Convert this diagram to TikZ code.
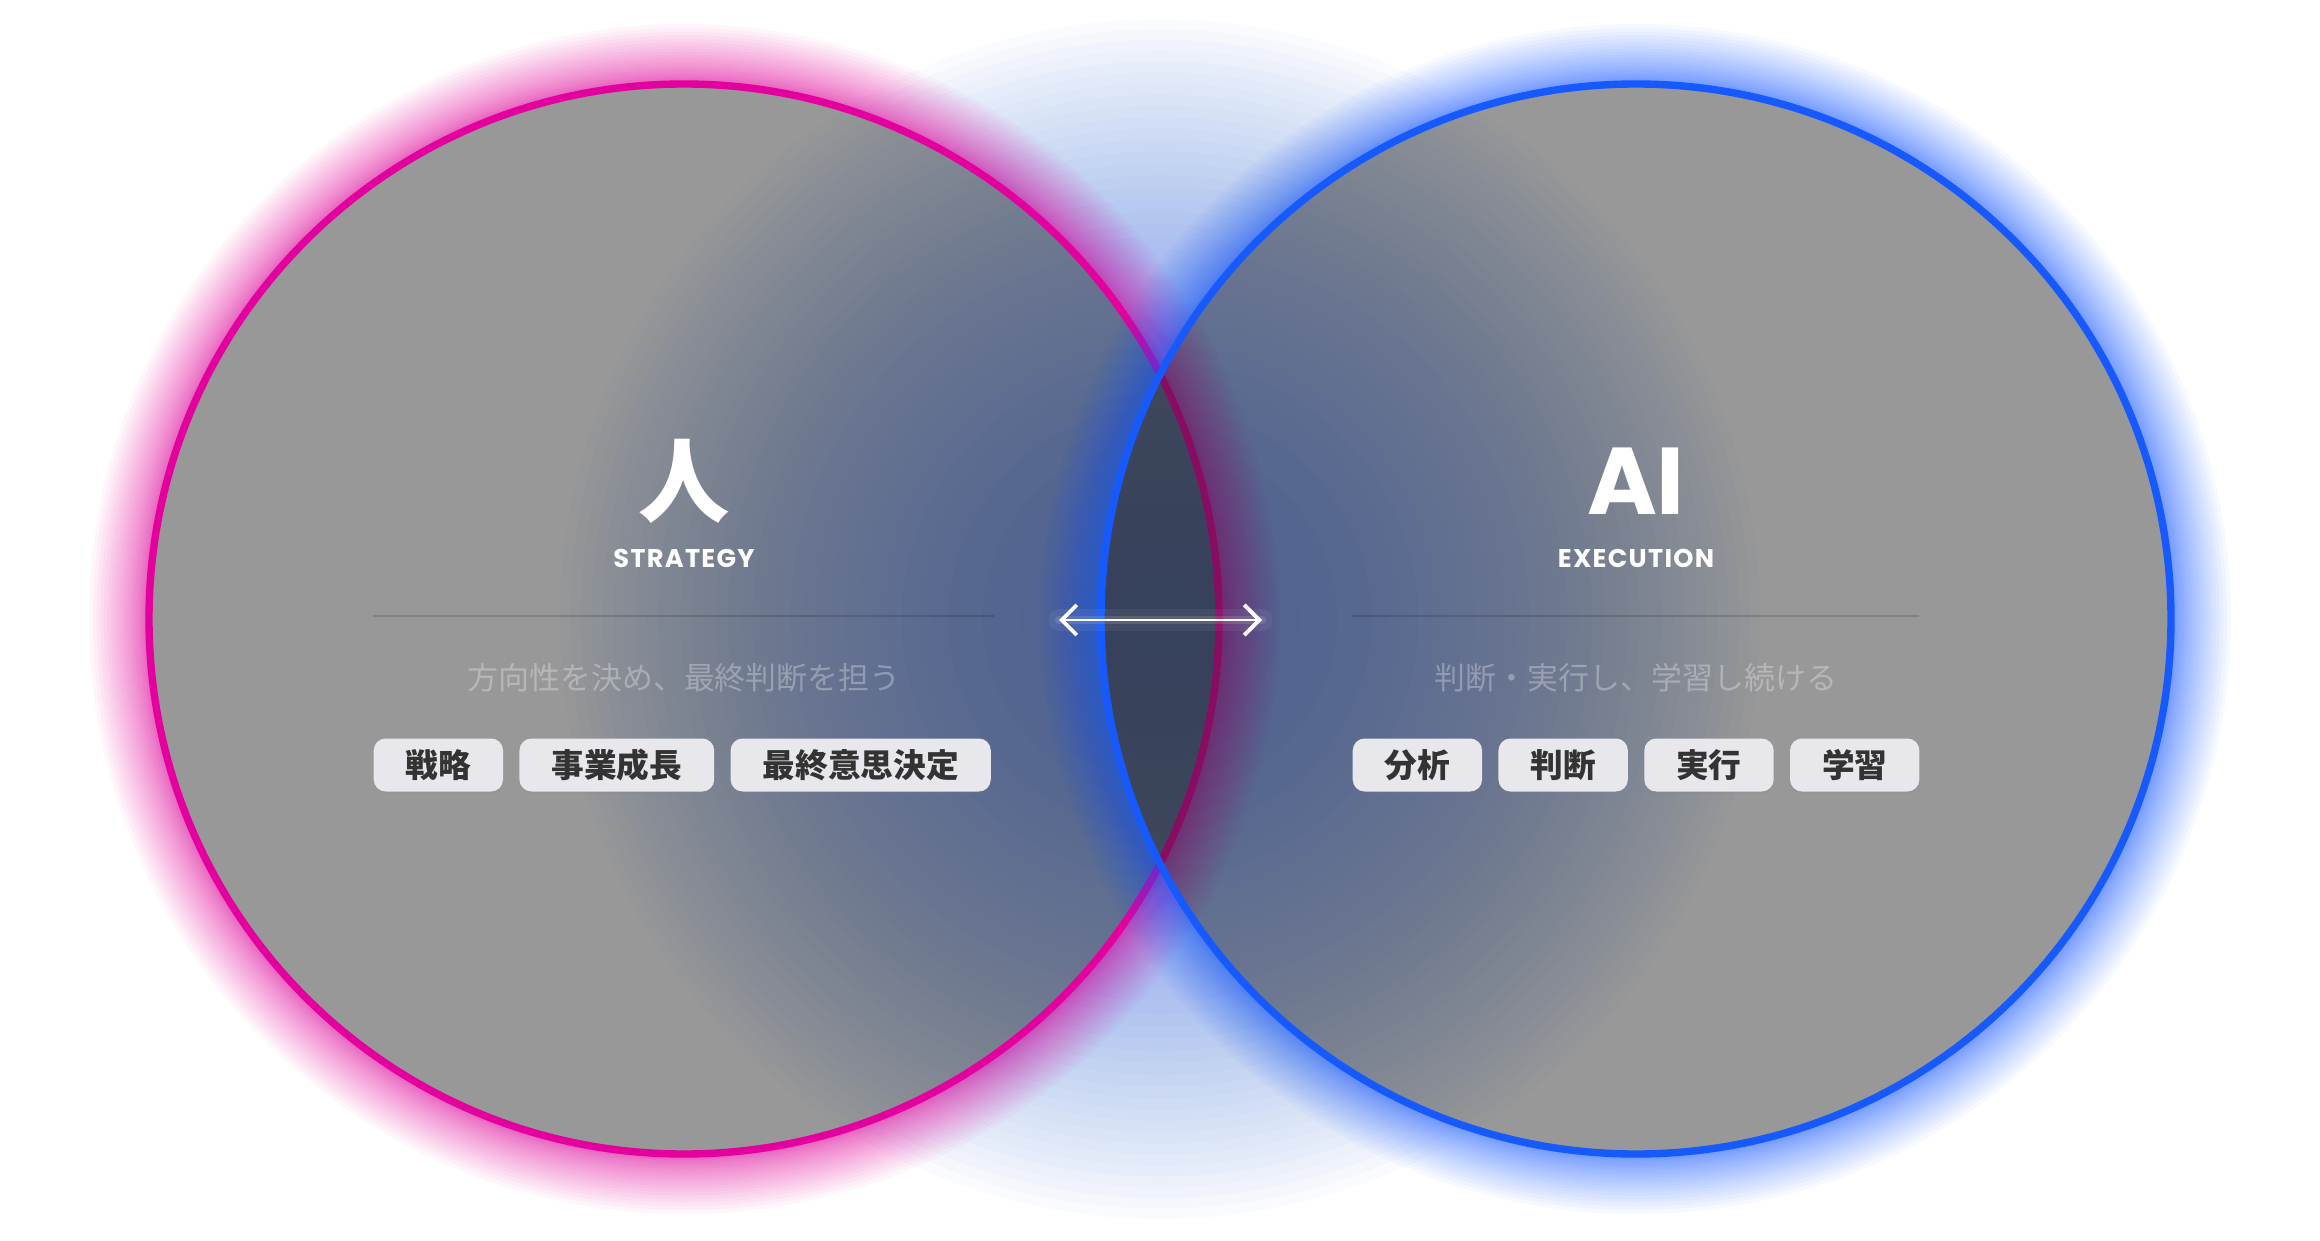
\documentclass[tikz,border=0pt]{standalone}
\usepackage{fontspec}
\newfontfamily\jpfont{Noto Sans CJK JP}
\newfontfamily\popfont{Poppins}
\usetikzlibrary{arrows.meta,positioning,shadows}
\definecolor{humanpink}{RGB}{228,0,158}
\definecolor{aiblue}{RGB}{22,90,255}
\definecolor{glowblue}{RGB}{30,90,240}
\definecolor{discgray}{RGB}{28,28,28}
\definecolor{tagfill}{RGB}{232,232,236}
\definecolor{tagtext}{RGB}{51,51,51}

\tikzset{
  disc/.style={line width=2.1pt, fill=discgray, fill opacity=0.45},
  halo/.style={opacity=0.035, even odd rule},
  bigword/.style={text=white, inner sep=0pt},
  subword/.style={text=white, inner sep=0pt, font=\popfont\bfseries\fontsize{7.3}{9}\selectfont\addfontfeatures{LetterSpace=5}},
  lead/.style={text=white, text opacity=0.3, inner sep=0pt, font=\jpfont\fontsize{8.8}{10}\selectfont},
  divider/.style={black, opacity=0.15, line width=0.85pt},
  tag/.style={fill=tagfill, text=tagtext, rounded corners=3.4pt, minimum height=0.53cm,
    inner xsep=0.32cm, inner ysep=0pt, font=\jpfont\bfseries\fontsize{9.3}{11}\selectfont,
    drop shadow={shadow xshift=0pt, shadow yshift=-0.6pt, opacity=0.15}},
  link/.style={white, line width=0.85pt, {Straight Barb[length=4.3pt, width=8.6pt, line width=1.1pt]}-{Straight Barb[length=4.3pt, width=8.6pt, line width=1.1pt]}},
  linkglow/.style={white, line cap=round}
}

\begin{document}
\begin{tikzpicture}
  \fill[white] (0,0) rectangle (23.2,12.4);
  \useasboundingbox (0,0) rectangle (23.2,12.4);

  \coordinate (hc) at (6.84,6.21);
  \coordinate (ac) at (16.36,6.21);
  \coordinate (mid) at (11.60,6.21);

  % glow in the middle
  \foreach \k in {1,...,40}
    \fill[glowblue, opacity=0.021] (mid) circle[radius={6.0*(\k/40)^0.7}];

  % left circle with its halo
  \foreach \k in {1,...,30}
    \fill[humanpink, halo] (hc) circle[radius=5.35] circle[radius={5.35+0.6*(\k/30)^2}];
  \draw[disc, draw=humanpink] (hc) circle[radius=5.35];

  % right circle with its halo
  \foreach \k in {1,...,30}
    \fill[aiblue, halo] (ac) circle[radius=5.35] circle[radius={5.35+0.6*(\k/30)^2}];
  \draw[disc, draw=aiblue] (ac) circle[radius=5.35];

  % arrow between them
  \coordinate (arrl) at (10.59,6.20);
  \coordinate (arrr) at (12.62,6.20);
  \draw[linkglow, opacity=0.06, line width=6pt] (arrl) -- (arrr);
  \draw[linkglow, opacity=0.12, line width=2.5pt] (arrl) -- (arrr);
  \draw[link] (arrl) -- (arrr);

  % human side
  \node[bigword, font=\jpfont\bfseries\fontsize{26}{30}\selectfont] (hname) at (6.84,7.59) {人};
  \node[subword] (hrole) at (6.84,6.82) {STRATEGY};
  \coordinate (hl1) at (3.73,6.24);
  \coordinate (hl2) at (9.94,6.24);
  \draw[divider] (hl1) -- (hl2);
  \node[lead] (hlead) at (6.84,5.62) {方向性を決め、最終判断を担う};
  \node[tag, anchor=west] (ht1) at (3.73,4.75) {戦略};
  \node[tag, right=0.15 of ht1] (ht2) {事業成長};
  \node[tag, right=0.15 of ht2] (ht3) {最終意思決定};

  % AI side
  \node[bigword, font=\popfont\bfseries\fontsize{27}{30}\selectfont] (aname) at (16.36,7.59) {AI};
  \node[subword] (arole) at (16.36,6.82) {EXECUTION};
  \coordinate (al1) at (13.51,6.24);
  \coordinate (al2) at (19.19,6.24);
  \draw[divider] (al1) -- (al2);
  \node[lead] (alead) at (16.36,5.62) {判断・実行し、学習し続ける};
  \node[tag, anchor=west] (at1) at (13.52,4.75) {分析};
  \node[tag, right=0.15 of at1] (at2) {判断};
  \node[tag, right=0.15 of at2] (at3) {実行};
  \node[tag, right=0.15 of at3] (at4) {学習};
\end{tikzpicture}
\end{document}
